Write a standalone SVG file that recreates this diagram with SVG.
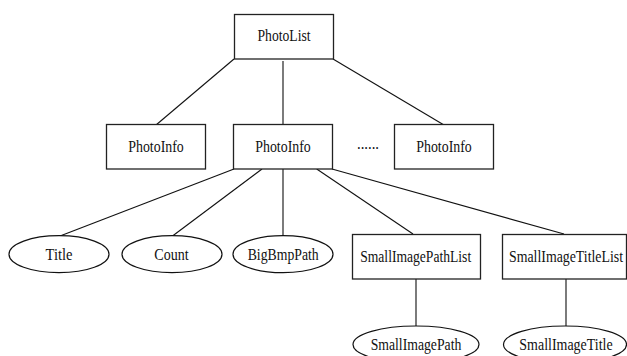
<svg xmlns="http://www.w3.org/2000/svg" width="627" height="356" viewBox="0 0 627 356">
<style>
.box{fill:#fff;stroke:#222;stroke-width:1.3}
.ell{fill:#fff;stroke:#111;stroke-width:1.2}
.t{font-family:"Liberation Serif","Times New Roman",serif;font-size:16px;fill:#111;text-anchor:middle}
.c line{stroke:#111;stroke-width:1.1}
.c line.v{stroke:#444;stroke-width:1.4}
</style>
<rect width="627" height="356" fill="#fff"/>
<g class="c" id="connectors">
<line x1="234" y1="59" x2="156" y2="125"/>
<line class="v" x1="283" y1="61" x2="283" y2="125"/>
<line x1="333" y1="59" x2="444" y2="125"/>
<line x1="234" y1="169" x2="60" y2="236"/>
<line x1="262" y1="169" x2="172.5" y2="236"/>
<line class="v" x1="283" y1="169" x2="283" y2="236"/>
<line x1="316.7" y1="169" x2="413" y2="234"/>
<line x1="332" y1="169" x2="564" y2="234"/>
<line class="v" x1="416" y1="279" x2="416" y2="326"/>
<line class="v" x1="566" y1="279" x2="566" y2="326"/>
</g>
<g id="photolist"><rect class="box" x="234.5" y="14.5" width="99" height="44.5"/><text class="t" x="284" y="41" textLength="53" lengthAdjust="spacingAndGlyphs">PhotoList</text></g>
<g id="photoinfo1"><rect class="box" x="106.5" y="124.5" width="99" height="44.5"/><text class="t" x="156" y="152" textLength="55.5" lengthAdjust="spacingAndGlyphs">PhotoInfo</text></g>
<g id="photoinfo2"><rect class="box" x="233.5" y="124.5" width="99" height="44.5"/><text class="t" x="283" y="152" textLength="55.5" lengthAdjust="spacingAndGlyphs">PhotoInfo</text></g>
<g id="ellipsis"><text class="t" x="368" y="149" textLength="22" lengthAdjust="spacingAndGlyphs">......</text></g>
<g id="photoinfo3"><rect class="box" x="394.5" y="124.5" width="99" height="44.5"/><text class="t" x="444" y="152" textLength="55.5" lengthAdjust="spacingAndGlyphs">PhotoInfo</text></g>
<g id="title"><ellipse class="ell" cx="59" cy="254.2" rx="50" ry="18.5"/><text class="t" x="59" y="259.5" textLength="27" lengthAdjust="spacingAndGlyphs">Title</text></g>
<g id="count"><ellipse class="ell" cx="172" cy="254.2" rx="50" ry="18.5"/><text class="t" x="171.5" y="259.5" textLength="34.3" lengthAdjust="spacingAndGlyphs">Count</text></g>
<g id="bigbmppath"><ellipse class="ell" cx="283" cy="254.2" rx="50" ry="18.5"/><text class="t" x="283.2" y="259.5" textLength="71" lengthAdjust="spacingAndGlyphs">BigBmpPath</text></g>
<g id="smallimagepathlist"><rect class="box" x="352.5" y="234.5" width="128" height="44.5"/><text class="t" x="415.7" y="262" textLength="111" lengthAdjust="spacingAndGlyphs">SmallImagePathList</text></g>
<g id="smallimagetitlelist"><rect class="box" x="502.5" y="234.5" width="124" height="44.5"/><text class="t" x="566" y="262" textLength="114" lengthAdjust="spacingAndGlyphs">SmallImageTitleList</text></g>
<g id="smallimagepath"><ellipse class="ell" cx="416" cy="344.5" rx="63" ry="18.5"/><text class="t" x="416" y="350" textLength="90.7" lengthAdjust="spacingAndGlyphs">SmallImagePath</text></g>
<g id="smallimagetitle"><ellipse class="ell" cx="565" cy="344.5" rx="61.5" ry="18.5"/><text class="t" x="566" y="350" textLength="93.3" lengthAdjust="spacingAndGlyphs">SmallImageTitle</text></g>
</svg>
